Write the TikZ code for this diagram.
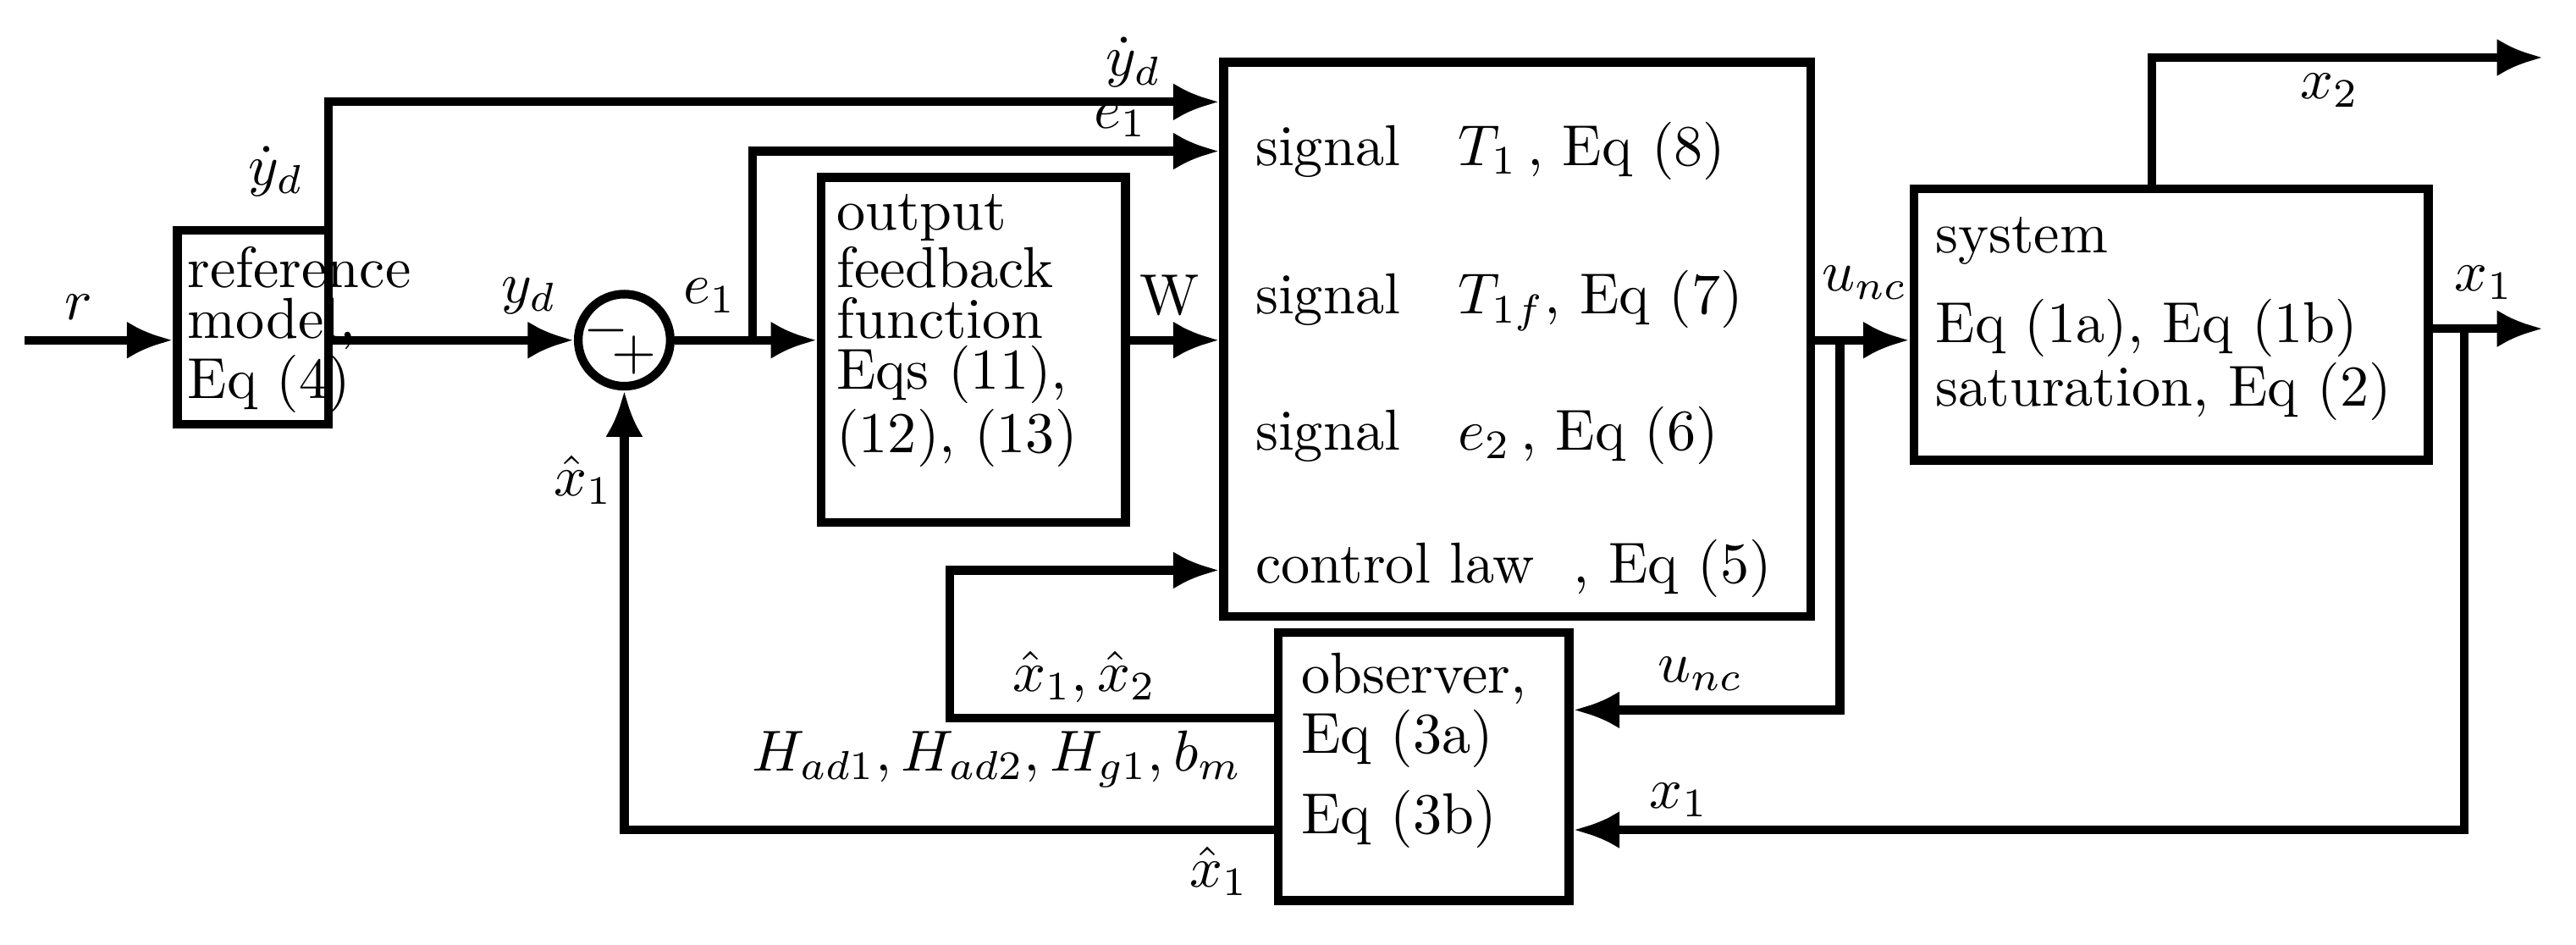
\documentclass[tikz,border=0pt]{standalone}
\usetikzlibrary{arrows.meta}
\begin{document}
\begin{tikzpicture}[x=0.01cm,y=-0.01cm,
  every node/.style={font=\fontsize{10}{8.8}\selectfont},
  blk/.style={draw,line width=1.5pt,inner sep=0pt},
  w/.style={line width=1.5pt},
  a/.style={w,-{Latex[length=8pt,width=6.5pt]}},
  lab/.style={inner sep=1pt}]
\useasboundingbox (0,0) rectangle (1568,575);
% boxes
\node[blk,minimum width=0.92cm,minimum height=1.18cm] (ref) at (154,199) {};
\node[lab,align=left,anchor=north west] at (110,146) {reference\\model,\\Eq (4)};
\node[draw,w,circle,minimum size=0.56cm,inner sep=0pt] (sum) at (380,207) {};
\node at (369,201) {$-$};
\node at (386,216) {$+$};
\node[blk,minimum width=1.85cm,minimum height=2.10cm] (ofb) at (592.5,213) {};
\node[lab,align=left,anchor=north west] at (505,114) {output\\feedback\\function\\Eqs (11),\\(12), (13)};
\node[blk,minimum width=3.57cm,minimum height=3.37cm] (ctl) at (923.5,206.5) {};
\node[lab,anchor=west] at (760,92) {signal \ \ $T_1$\,, Eq (8)};
\node[lab,anchor=west] at (760,183) {signal \ \ $T_{1f}$, Eq (7)};
\node[lab,anchor=west] at (760,265) {signal \ \ $e_2$\,, Eq (6)};
\node[lab,anchor=west] at (760,346) {control law \ , Eq (5)};
\node[blk,minimum width=3.13cm,minimum height=1.65cm] (sys) at (1321.5,197.5) {};
\node[lab,align=left,anchor=north west] at (1174,128) {system\\[5pt]Eq (1a), Eq (1b)\\saturation, Eq (2)};
\node[blk,minimum width=1.77cm,minimum height=1.63cm] (obs) at (866.5,466.5) {};
\node[lab,align=left,anchor=north west] at (788,393) {observer,\\Eq (3a)\\[3pt]Eq (3b)};
% coordinates
\coordinate (rin) at (15,207);
\coordinate (ydtop) at (200,62);
\coordinate (br1) at (458,207);
\coordinate (bu) at (1120,207);
\coordinate (bx) at (1500,200);
\coordinate (x2top) at (1310,35);
\coordinate (x2end) at (1548,35);
\coordinate (x1end) at (1548,200);
\coordinate (fb) at (578,437);
% connectors
\draw[a] (rin) -- (ref.west |- rin);
\draw[a] (ydtop |- ref.north) -- (ydtop) -- (ctl.west |- ydtop);
\draw[a] (ref.east |- sum) -- (sum.west);
\draw[a] (sum.east) -- (ofb.west |- sum);
\draw[a] (br1) -- (br1 |- 0,92) -- (ctl.west |- 0,92);
\draw[a] (ofb.east |- sum) -- (ctl.west |- sum);
\draw[a] (ctl.east |- bu) -- (sys.west |- bu);
\draw[a] (bu) -- (bu |- 0,432) -- (obs.east |- 0,432);
\draw[a] (x2top |- sys.north) -- (x2top) -- (x2end);
\draw[a] (sys.east |- bx) -- (x1end);
\draw[a] (bx) -- (bx |- 0,505) -- (obs.east |- 0,505);
\draw[a] (obs.west |- fb) -- (fb) -- (fb |- 0,347) -- (ctl.west |- 0,347);
\draw[a] (obs.west |- 0,505) -- (sum.south |- 0,505) -- (sum.south);
% labels
\node at (48,187) {$r$};
\node at (168,104) {$\dot y_d$};
\node at (690,38) {$\dot y_d$};
\node at (682,73) {$e_1$};
\node at (322,180) {$y_d$};
\node at (432,180) {$e_1$};
\node at (712,180) {W};
\node at (1135,172) {$u_{nc}$};
\node at (1035,410) {$u_{nc}$};
\node at (1418,55) {$x_2$};
\node at (1512,172) {$x_1$};
\node at (1022,487) {$x_1$};
\node at (660,412) {$\hat x_1,\hat x_2$};
\node at (607,462) {$H_{ad1},H_{ad2},H_{g1},b_m$};
\node at (355,292) {$\hat x_1$};
\node at (742,530) {$\hat x_1$};
\end{tikzpicture}
\end{document}
